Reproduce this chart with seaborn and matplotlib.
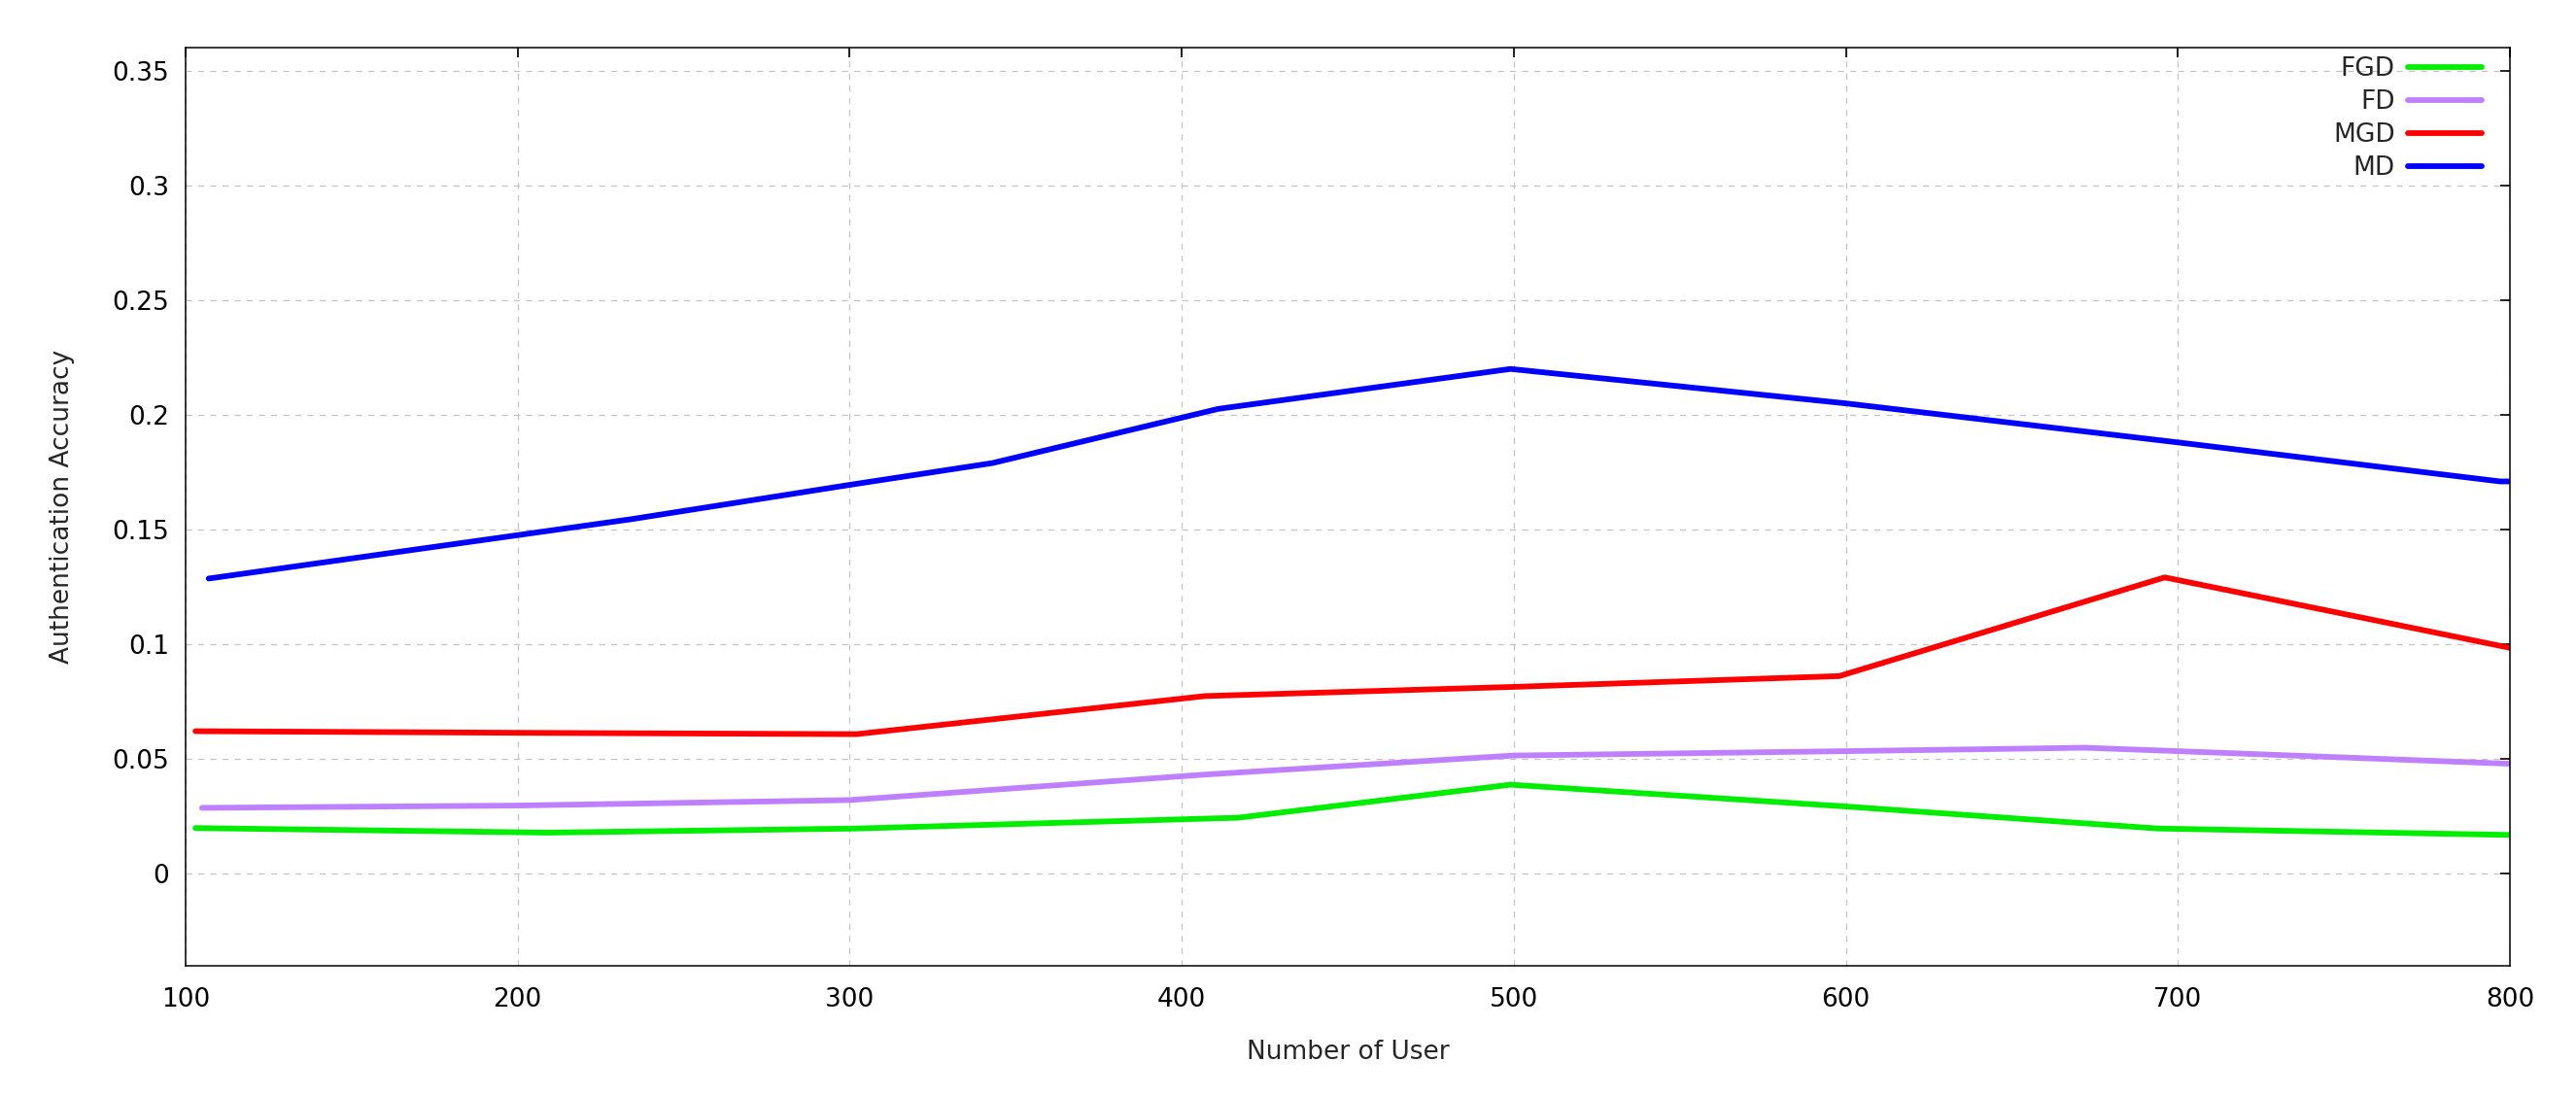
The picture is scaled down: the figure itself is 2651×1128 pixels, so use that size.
import pandas as pd
import numpy as np
import matplotlib
matplotlib.use('Agg')
import matplotlib.pyplot as plt
import seaborn as sns

# series (x = number of users, y = accuracy)
fgd_x = [103, 209, 302, 417, 499, 600, 694, 800]
fgd_y = [0.0200, 0.0180, 0.0198, 0.0245, 0.0389, 0.0294, 0.0198, 0.0170]

fd_x = [105, 200, 300, 407, 500, 600, 672, 700, 800]
fd_y = [0.0288, 0.0298, 0.0322, 0.0433, 0.0516, 0.0535, 0.0550, 0.0535, 0.0480]

mgd_x = [103, 200, 302, 407, 500, 598, 696, 800]
mgd_y = [0.0622, 0.0615, 0.0609, 0.0775, 0.0815, 0.0862, 0.1292, 0.0985]

md_x = [107, 234, 300, 343, 411, 499, 600, 700, 797, 800]
md_y = [0.1287, 0.1545, 0.1695, 0.1790, 0.2026, 0.2200, 0.2050, 0.1880, 0.1710, 0.1710]

names = ['FGD', 'FD', 'MGD', 'MD']
colors = ['#00ee00', '#bf80ff', '#ff0000', '#0000ff']

xticks = [100, 200, 300, 400, 500, 600, 700, 800]
yticks = [0, 0.05, 0.1, 0.15, 0.2, 0.25, 0.3, 0.35]
ytick_labels = ['0', '0.05', '0.1', '0.15', '0.2', '0.25', '0.3', '0.35']

frames = []
for name, xs, ys in zip(names, [fgd_x, fd_x, mgd_x, md_x], [fgd_y, fd_y, mgd_y, md_y]):
    frames.append(pd.DataFrame({'users': xs, 'acc': ys, 'method': name}))
df = pd.concat(frames, ignore_index=True)

sns.set_style('white')
plt.rcParams['font.family'] = ['DejaVu Sans']

fig = plt.figure(figsize=(26.51, 11.28), dpi=100)
ax = fig.add_axes([0.0720, 0.1188, 0.9024, 0.8378])

sns.lineplot(data=df, x='users', y='acc', hue='method', hue_order=names,
             palette=colors, sort=False, estimator=None, linewidth=4.2, ax=ax)

ax.set_xlim(100, 800)
ax.set_ylim(-0.04, 0.36)
ax.set_xticks(xticks)
ax.set_yticks(yticks)
ax.set_yticklabels(ytick_labels)
ax.grid(True, color='#c4c4c4', linestyle=(0, (5, 5)), linewidth=0.9)
for s in ax.spines.values():
    s.set_color('black')
    s.set_linewidth(1.1)
ax.tick_params(direction='in', length=7, width=1.2, top=True, right=True,
               labelsize=19, colors='black')
ax.tick_params(axis='y', pad=12)
ax.tick_params(axis='x', pad=16)
ax.set_xlabel('Number of User', fontsize=19, labelpad=20)
ax.set_ylabel('Authentication Accuracy', fontsize=19, labelpad=28)

handles, labels = ax.get_legend_handles_labels()
ax.legend(handles, labels, loc='upper right', bbox_to_anchor=(0.988, 0.99),
          frameon=False, markerfirst=False, fontsize=19, handlelength=2.9,
          handletextpad=0.5, labelspacing=0.3, borderaxespad=0, borderpad=0)

fig.savefig('out.png', dpi=100)
